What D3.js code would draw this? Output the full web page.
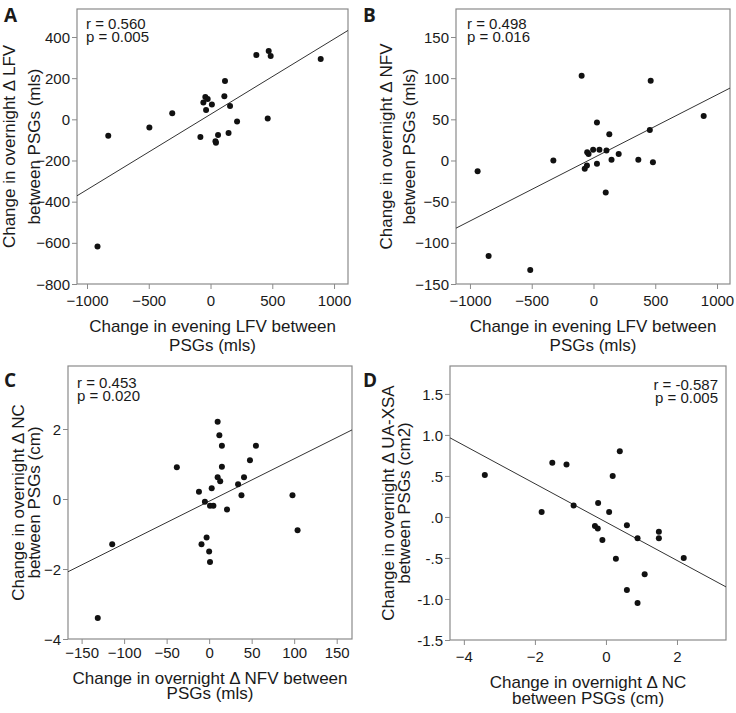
<!DOCTYPE html>
<html><head><meta charset="utf-8">
<script src="https://cdn.jsdelivr.net/npm/d3@7"></script>
<style>
body{margin:0;background:#fff}
svg{display:block}
text{font-family:"Liberation Sans",Arial,sans-serif;fill:#1a1a1a}
</style>
</head><body>
<svg id="chart" width="736" height="713"></svg>
<script>
// ---------- DATA ----------
const panelLetters = ["A", "B", "C", "D"];

// Panel A: evening LFV change (x) vs overnight Δ LFV change (y)
const aX = [-915, -828, -495, -310, -82, -58, -42, -23, -36, 11, 40, 44, 61, 117, 112, 146, 158, 215, 371, 471, 487, 463, 892];
const aY = [-618, -80, -40, 30, -86, 82, 108, 99, 45, 72, -107, -114, -76, 186, 112, -67, 65, -10, 313, 332, 308, 4, 293];

// Panel B: evening LFV change (x) vs overnight Δ NFV change (y)
const bX = [-938, -849, -512, -325, -96, -71, -53, -51, -40, -3, 28, 28, 48, 99, 105, 128, 146, 204, 363, 456, 463, 481, 892];
const bY = [-13, -116, -133, 0, 103, -10, -6, 10, 8, 13, 46, -4, 13, -39, 12, 32, 1, 8, 1, 37, 97, -2, 54];

// Panel C: overnight Δ NFV change (x) vs overnight Δ NC change (y)
const cX = [-131, -114, -38, -12, -9, -3, -5, 0, 1, 3, 1, 5, 10, 12, 15, 15, 10, 13, 21, 34, 38, 41, 48, 55, 98, 104];
const cY = [-3.4, -1.29, 0.91, 0.21, -1.29, -1.1, -0.08, -1.5, -1.8, 0.31, -0.19, -0.19, 2.21, 1.82, 1.52, 0.92, 0.62, 0.51, -0.3, 0.42, 0.11, 0.62, 1.11, 1.52, 0.11, -0.89];

// Panel D: overnight Δ NC change (x) vs overnight Δ UA-XSA change (y)
const dX = [-3.41, -1.81, -1.51, -1.11, -0.91, -0.31, -0.23, -0.22, -0.10, 0.09, 0.19, 0.39, 0.28, 0.59, 0.59, 0.89, 0.89, 1.09, 1.49, 1.49, 2.19];
const dY = [0.51, 0.06, 0.66, 0.64, 0.14, -0.11, -0.14, 0.17, -0.28, 0.06, 0.50, 0.80, -0.51, -0.10, -0.89, -0.26, -1.05, -0.70, -0.18, -0.26, -0.50];

// Tick values and labels
const aXTicks = [-1000, -500, 0, 500, 1000];
const aYTicks = [-800, -600, -400, -200, 0, 200, 400];
const bXTicks = [-1000, -500, 0, 500, 1000];
const bYTicks = [-150, -100, -50, 0, 50, 100, 150];
const cXTicks = [-150, -100, -50, 0, 50, 100, 150];
const cYTicks = [-4, -2, 0, 2];
const dXTicks = [-4, -2, 0, 2];
const dYTicks = [-1.5, -1.0, -0.5, 0, 0.5, 1.0, 1.5];
const dYTickLabels = ["-1.5", "-1.0", "-.5", ".0", ".5", "1.0", "1.5"];

// Stats text
const statsA = ["r = 0.560", "p = 0.005"];
const statsB = ["r = 0.498", "p = 0.016"];
const statsC = ["r = 0.453", "p = 0.020"];
const statsD = ["r = -0.587", "p = 0.005"];

// Axis titles
const xTitles = [
  ["Change in evening LFV between", "PSGs (mls)"],
  ["Change in evening LFV between", "PSGs (mls)"],
  ["Change in overnight \u0394 NFV between", "PSGs (mls)"],
  ["Change in overnight \u0394 NC", "between PSGs (cm)"]
];
const yTitles = [
  ["Change in overnight \u0394 LFV", "between PSGs (mls)"],
  ["Change in overnight \u0394 NFV", "between PSGs (mls)"],
  ["Change in overnight \u0394 NC", "between PSGs (cm)"],
  ["Change in overnight \u0394 UA-XSA", "between PSGs (cm2)"]
];

// ---------- LAYOUT (positions only) ----------
const panels = [
  {xs: aX, ys: aY, xT: aXTicks, yT: aYTicks, yTL: null, stats: statsA, statsAnchor: "start",
   box: {l: 77, r: 348, t: 9, b: 284}, xd: [-1081, 1113], yd: [-800, 536],
   letter: {x: 4, y: 22}, statsPos: {x: 86, y1: 29, y2: 42},
   xLab: 306, xTitle: [332, 351], yTitle: [15, 40]},
  {xs: bX, ys: bY, xT: bXTicks, yT: bYTicks, yTL: null, stats: statsB, statsAnchor: "start",
   box: {l: 456, r: 730, t: 9, b: 284}, xd: [-1113, 1105], yd: [-150, 184],
   letter: {x: 363, y: 22}, statsPos: {x: 467, y1: 29, y2: 42},
   xLab: 306, xTitle: [332, 351], yTitle: [392, 415]},
  {xs: cX, ys: cY, xT: cXTicks, yT: cYTicks, yTL: null, stats: statsC, statsAnchor: "start",
   box: {l: 68, r: 352, t: 366, b: 639}, xd: [-166, 168], yd: [-4, 3.8],
   letter: {x: 4, y: 387}, statsPos: {x: 77, y1: 388, y2: 401},
   xLab: 658, xTitle: [684, 699], yTitle: [24, 40]},
  {xs: dX, ys: dY, xT: dXTicks, yT: dYTicks, yTL: dYTickLabels, stats: statsD, statsAnchor: "end",
   box: {l: 450, r: 726, t: 366, b: 640}, xd: [-4.39, 3.38], yd: [-1.5, 1.84],
   letter: {x: 363, y: 387}, statsPos: {x: 718, y1: 390, y2: 403},
   xLab: 662, xTitle: [688, 704], yTitle: [394, 410]}
];

const svg = d3.select("#chart");
const frameColor = "#8a8a8a";

panels.forEach((p, i) => {
  const x = d3.scaleLinear().domain(p.xd).range([p.box.l, p.box.r]);
  const y = d3.scaleLinear().domain(p.yd).range([p.box.b, p.box.t]);
  const g = svg.append("g");

  const clipId = "clip" + i;
  svg.append("clipPath").attr("id", clipId).append("rect")
    .attr("x", p.box.l).attr("y", p.box.t)
    .attr("width", p.box.r - p.box.l).attr("height", p.box.b - p.box.t);

  // X axis
  const xAxis = g.append("g").attr("transform", `translate(0,${p.box.b})`)
    .call(d3.axisBottom(x).tickValues(p.xT).tickSize(5).tickSizeOuter(0).tickFormat(d3.format("d")));
  xAxis.select(".domain").remove();
  xAxis.selectAll(".tick line").attr("stroke", frameColor);
  xAxis.selectAll(".tick text").attr("y", null).attr("dy", null)
    .attr("transform", `translate(0,${p.xLab - p.box.b})`)
    .style("font-size", "15px").style("font-family", '"Liberation Sans",Arial,sans-serif').attr("fill", "#1a1a1a");

  // Y axis
  const yAxis = g.append("g").attr("transform", `translate(${p.box.l},0)`)
    .call(d3.axisLeft(y).tickValues(p.yT).tickSize(5).tickSizeOuter(0)
      .tickFormat((d, k) => p.yTL ? p.yTL[k] : d3.format("d")(d)));
  yAxis.select(".domain").remove();
  yAxis.selectAll(".tick line").attr("stroke", frameColor);
  yAxis.selectAll(".tick text").attr("x", -7).attr("dy", "0.34em")
    .style("font-size", "15px").style("font-family", '"Liberation Sans",Arial,sans-serif').attr("fill", "#1a1a1a");

  // frame
  g.append("rect").attr("x", p.box.l).attr("y", p.box.t)
    .attr("width", p.box.r - p.box.l).attr("height", p.box.b - p.box.t)
    .attr("fill", "none").attr("stroke", frameColor).attr("stroke-width", 1.2);

  // regression line (least squares from data)
  const mx = d3.mean(p.xs), my = d3.mean(p.ys);
  let sxy = 0, sxx = 0;
  p.xs.forEach((v, k) => { sxy += (v - mx) * (p.ys[k] - my); sxx += (v - mx) * (v - mx); });
  const slope = sxy / sxx, icpt = my - slope * mx;
  const lineData = p.xd.map(v => [v, icpt + slope * v]);
  g.append("path").attr("clip-path", `url(#${clipId})`)
    .attr("d", d3.line().x(d => x(d[0])).y(d => y(d[1]))(lineData))
    .attr("fill", "none").attr("stroke", "#333").attr("stroke-width", 1);

  // points
  g.append("g").selectAll("circle").data(p.xs.map((v, k) => [v, p.ys[k]])).join("circle")
    .attr("cx", d => x(d[0])).attr("cy", d => y(d[1])).attr("r", 3).attr("fill", "#111");

  // stats
  g.append("text").attr("x", p.statsPos.x).attr("y", p.statsPos.y1).attr("text-anchor", p.statsAnchor)
    .style("font-size", "15px").text(p.stats[0]);
  g.append("text").attr("x", p.statsPos.x).attr("y", p.statsPos.y2).attr("text-anchor", p.statsAnchor)
    .style("font-size", "15px").text(p.stats[1]);

  // panel letter
  g.append("text").attr("x", p.letter.x).attr("y", p.letter.y)
    .style("font-size", "19px").style("font-weight", "bold")
    .style("font-family", '"Open Sans","Liberation Sans",sans-serif').text(panelLetters[i]);

  // x title
  const cxm = (p.box.l + p.box.r) / 2;
  xTitles[i].forEach((t, k) => {
    g.append("text").attr("x", cxm).attr("y", p.xTitle[k]).attr("text-anchor", "middle")
      .style("font-size", "17px").text(t);
  });
  // y title
  const cym = (p.box.t + p.box.b) / 2;
  yTitles[i].forEach((t, k) => {
    g.append("text").attr("transform", `translate(${p.yTitle[k]},${cym}) rotate(-90)`)
      .attr("text-anchor", "middle").style("font-size", "17px").text(t);
  });
});
</script>
</body></html>
